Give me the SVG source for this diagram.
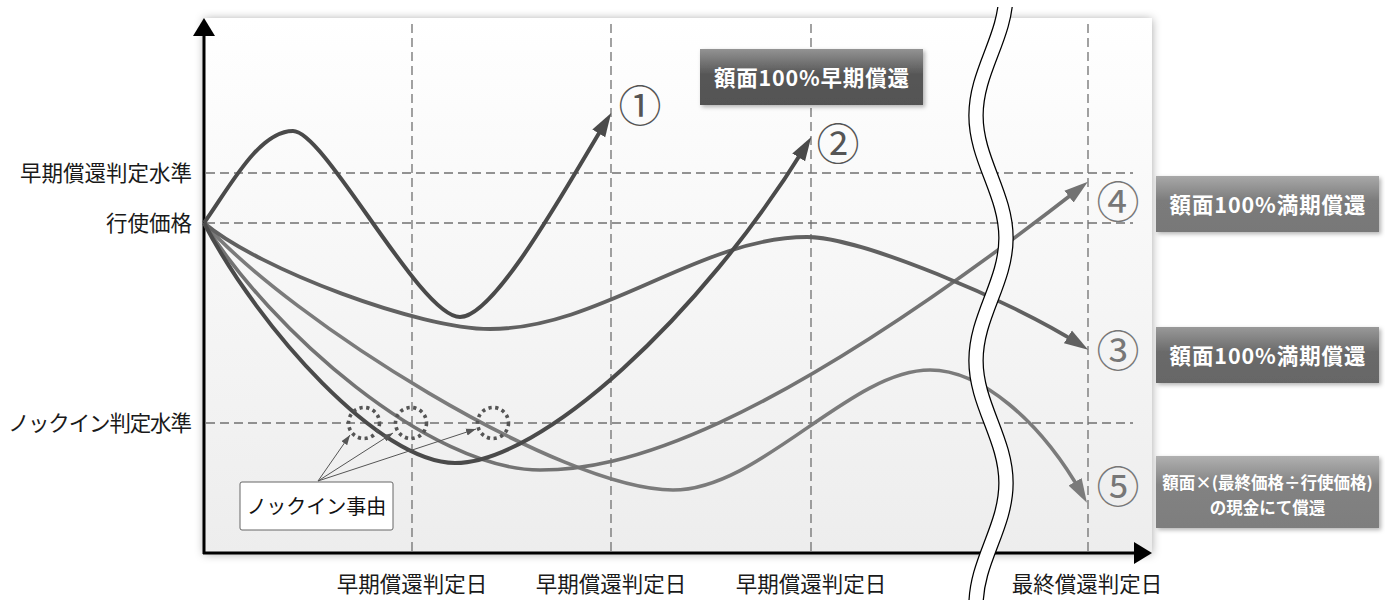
<svg xmlns="http://www.w3.org/2000/svg" width="1385" height="600" viewBox="0 0 1385 600">
<defs>
<style>
.lbl{font-family:"Noto Sans CJK JP","Noto Sans",sans-serif;font-size:21.5px;fill:#1a1a1a}
.grid{stroke:#707070;stroke-width:1.3;stroke-dasharray:9 5;fill:none}
.curve{fill:none;stroke-linecap:butt}
.num{font-family:"Noto Sans CJK JP","Noto Sans",sans-serif;font-size:43px;text-anchor:middle}
.btxt{font-family:"Noto Sans CJK JP","Noto Sans",sans-serif;font-weight:bold;fill:#fff;text-anchor:middle}
.ki{fill:none;stroke:#555;stroke-width:3.6;stroke-dasharray:3.2 3.6}
.ptr{stroke:#555;stroke-width:1;fill:none}
</style>
<linearGradient id="gPanel" x1="0" y1="0" x2="0" y2="1"><stop offset="0" stop-color="#ffffff"/><stop offset="1" stop-color="#ededed"/></linearGradient>
<linearGradient id="gA" x1="0" y1="0" x2="0" y2="1"><stop offset="0" stop-color="#939393"/><stop offset="0.45" stop-color="#575757"/><stop offset="1" stop-color="#535353"/></linearGradient>
<linearGradient id="g3" x1="0" y1="0" x2="0" y2="1"><stop offset="0" stop-color="#999"/><stop offset="0.45" stop-color="#6a6a6a"/><stop offset="1" stop-color="#666"/></linearGradient>
<linearGradient id="g4" x1="0" y1="0" x2="0" y2="1"><stop offset="0" stop-color="#a8a8a8"/><stop offset="0.45" stop-color="#7b7b7b"/><stop offset="1" stop-color="#787878"/></linearGradient>
<linearGradient id="g5" x1="0" y1="0" x2="0" y2="1"><stop offset="0" stop-color="#b0b0b0"/><stop offset="0.4" stop-color="#828282"/><stop offset="1" stop-color="#7e7e7e"/></linearGradient>
<filter id="shPanel" x="-5%" y="-5%" width="110%" height="110%"><feDropShadow dx="0" dy="1" stdDeviation="5" flood-color="#000" flood-opacity="0.35"/></filter>
<filter id="shBox" x="-10%" y="-20%" width="120%" height="150%"><feDropShadow dx="2" dy="2" stdDeviation="2" flood-color="#000" flood-opacity="0.3"/></filter>
<marker id="aDark" markerUnits="userSpaceOnUse" markerWidth="24" markerHeight="16" viewBox="0 0 24 16" refX="14" refY="8" orient="auto"><path d="M0,0.5 L24,8 L0,15.5 z" fill="#4a4a4a"/></marker>
<marker id="aMid" markerUnits="userSpaceOnUse" markerWidth="24" markerHeight="16" viewBox="0 0 24 16" refX="14" refY="8" orient="auto"><path d="M0,0.5 L24,8 L0,15.5 z" fill="#616161"/></marker>
<marker id="aL1" markerUnits="userSpaceOnUse" markerWidth="24" markerHeight="16" viewBox="0 0 24 16" refX="14" refY="8" orient="auto"><path d="M0,0.5 L24,8 L0,15.5 z" fill="#737373"/></marker>
<marker id="aL2" markerUnits="userSpaceOnUse" markerWidth="24" markerHeight="16" viewBox="0 0 24 16" refX="14" refY="8" orient="auto"><path d="M0,0.5 L24,8 L0,15.5 z" fill="#7b7b7b"/></marker>
<marker id="aSm" markerUnits="userSpaceOnUse" markerWidth="10" markerHeight="8" viewBox="0 0 10 8" refX="10" refY="4" orient="auto"><path d="M0,0.5 L10,4 L0,7.5 z" fill="#555"/></marker>
<clipPath id="clipBand"><rect x="900" y="7" width="200" height="600"/></clipPath>
</defs>

<g id="panel">
<rect x="204" y="18" width="948" height="535" fill="url(#gPanel)" filter="url(#shPanel)"/>
</g>

<g id="grid">
<line class="grid" x1="206" y1="173" x2="1133" y2="173"/>
<line class="grid" x1="206" y1="223" x2="1133" y2="223"/>
<line class="grid" x1="206" y1="423" x2="1133" y2="423"/>
<line class="grid" x1="412" y1="24" x2="412" y2="552"/>
<line class="grid" x1="611" y1="24" x2="611" y2="552"/>
<line class="grid" x1="811" y1="24" x2="811" y2="552"/>
<line class="grid" x1="1088" y1="24" x2="1088" y2="552"/>
</g>

<g id="axes">
<line x1="204" y1="34" x2="204" y2="554" stroke="#000" stroke-width="3"/>
<polygon points="193,36 215,36 204,18" fill="#000"/>
<line x1="203" y1="553" x2="1136" y2="553" stroke="#000" stroke-width="3"/>
<polygon points="1134,542 1134,564 1152,553" fill="#000"/>
</g>

<g id="connectors">
<path id="c5" class="curve" d="M204,223 C290,320 560,490 673,490 C760,490 850,370 930,370 C980,370 1040,420 1082,494" stroke="#7b7b7b" stroke-width="3.6" marker-end="url(#aL2)"/>
<path id="c4" class="curve" d="M204,223 C270,330 430,470 540,470 C620,470 760,437 1080,188" stroke="#737373" stroke-width="3.6" marker-end="url(#aL1)"/>
<path id="c3" class="curve" d="M204,223 C260,270 420,329 490,329 C600,329 700,237 807,237 C860,237 1010,300 1079.7,344.4" stroke="#616161" stroke-width="3.8" marker-end="url(#aMid)"/>
<path id="c2" class="curve" d="M204,223 C260,330 380,463 455,463 C540,463 700,318 806,145.5" stroke="#4a4a4a" stroke-width="4" marker-end="url(#aDark)"/>
<path id="c1" class="curve" d="M204,223 C228,190 258,131 293,131 C325,131 420,317 460,317 C495,317 567,186 606,121.5" stroke="#4a4a4a" stroke-width="4" marker-end="url(#aDark)"/>
<line class="ptr" x1="318" y1="481" x2="350" y2="435" marker-end="url(#aSm)"/>
<line class="ptr" x1="318" y1="481" x2="393" y2="433" marker-end="url(#aSm)"/>
<line class="ptr" x1="318" y1="481" x2="476" y2="429" marker-end="url(#aSm)"/>
</g>

<g id="knockin-points">
<circle class="ki" cx="364" cy="423" r="15.5"/>
<circle class="ki" cx="411" cy="423" r="15.5"/>
<circle class="ki" cx="493" cy="423" r="15.5"/>
</g>

<g id="break" clip-path="url(#clipBand)">
<path d="M1006,-7 C1006,37.5 976,71 976,115.5 C976,160 1006,193.5 1006,238 C1006,282.5 976,316 976,360.5 C976,405 1006,438.5 1006,483 C1006,527.5 976,561 976,605.5" fill="none" stroke="#000" stroke-width="15.5"/>
<path d="M1006,-7 C1006,37.5 976,71 976,115.5 C976,160 1006,193.5 1006,238 C1006,282.5 976,316 976,360.5 C976,405 1006,438.5 1006,483 C1006,527.5 976,561 976,605.5" fill="none" stroke="#fff" stroke-width="13"/>
</g>

<g id="axis-labels">
<text class="lbl" x="192" y="181" text-anchor="end">早期償還判定水準</text>
<text class="lbl" x="192" y="231" text-anchor="end">行使価格</text>
<text class="lbl" x="192" y="431" text-anchor="end" textLength="184">ノックイン判定水準</text>
<text class="lbl" x="412" y="592" text-anchor="middle">早期償還判定日</text>
<text class="lbl" x="611" y="592" text-anchor="middle">早期償還判定日</text>
<text class="lbl" x="811" y="592" text-anchor="middle">早期償還判定日</text>
<text class="lbl" x="1087" y="592" text-anchor="middle">最終償還判定日</text>
</g>

<g id="n1"><text class="num" x="640" y="122" fill="#555">①</text></g>
<g id="n2"><text class="num" x="838" y="160" fill="#555">②</text></g>
<g id="n3"><text class="num" x="1118" y="367" fill="#777">③</text></g>
<g id="n4"><text class="num" x="1118" y="218" fill="#777">④</text></g>
<g id="n5"><text class="num" x="1118" y="503" fill="#777">⑤</text></g>

<g id="knockin-box">
<rect x="240" y="482" width="153" height="48" rx="2" fill="#fff" stroke="#666" stroke-width="1"/>
<text x="316.5" y="514" font-family="Noto Sans CJK JP, Noto Sans, sans-serif" font-size="20" fill="#111" text-anchor="middle">ノックイン事由</text>
</g>

<g id="box-early">
<rect x="700" y="49" width="223" height="56" fill="url(#gA)" filter="url(#shBox)"/>
<text class="btxt" x="811.5" y="85.5" font-size="21.5" textLength="195">額面100%早期償還</text>
</g>
<g id="box-4">
<rect x="1156" y="176" width="223" height="56" fill="url(#g4)" filter="url(#shBox)"/>
<text class="btxt" x="1267.5" y="212.5" font-size="21.5" textLength="196">額面100%満期償還</text>
</g>
<g id="box-3">
<rect x="1156" y="327" width="223" height="56" fill="url(#g3)" filter="url(#shBox)"/>
<text class="btxt" x="1267.5" y="363.5" font-size="21.5" textLength="196">額面100%満期償還</text>
</g>
<g id="box-5">
<rect x="1156" y="456" width="223" height="72" fill="url(#g5)" filter="url(#shBox)"/>
<text class="btxt" x="1267.5" y="489" font-size="16.5">額面×(最終価格÷行使価格)</text>
<text class="btxt" x="1267.5" y="514" font-size="16.5">の現金にて償還</text>
</g>
</svg>
